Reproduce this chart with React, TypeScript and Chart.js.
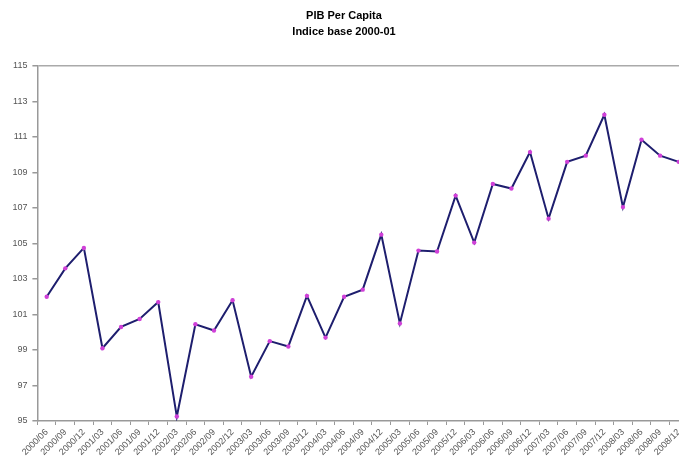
import React, { useEffect, useRef } from "react";
import { Chart, registerables } from "chart.js";

Chart.register(...registerables);

const titleLines = ["PIB Per Capita", "Indice base 2000-01"];

const quarters = [
  "2000/06", "2000/09", "2000/12",
  "2001/03", "2001/06", "2001/09", "2001/12",
  "2002/03", "2002/06", "2002/09", "2002/12",
  "2003/03", "2003/06", "2003/09", "2003/12",
  "2004/03", "2004/06", "2004/09", "2004/12",
  "2005/03", "2005/06", "2005/09", "2005/12",
  "2006/03", "2006/06", "2006/09", "2006/12",
  "2007/03", "2007/06", "2007/09", "2007/12",
  "2008/03", "2008/06", "2008/09", "2008/12",
];

const pibIndex = [
  102.0, 103.6, 104.75,
  99.1, 100.3, 100.75, 101.7,
  95.25, 100.45, 100.1, 101.8,
  97.5, 99.5, 99.2, 102.05,
  99.7, 102.0, 102.4, 105.5,
  100.5, 104.6, 104.55, 107.7,
  105.05, 108.35, 108.1, 110.15,
  106.4, 109.6, 109.95, 112.25,
  107.05, 110.85, 109.95, 109.6,
];

const yMin = 95;
const yMax = 115;
const yStep = 2;

export default function App() {
  const ref = useRef<HTMLCanvasElement | null>(null);

  useEffect(() => {
    if (!ref.current) return;
    const chart = new Chart(ref.current, {
      type: "line",
      data: {
        labels: quarters,
        datasets: [
          {
            data: pibIndex,
            borderColor: "#1e1e6e",
            borderWidth: 2,
            tension: 0,
            pointRadius: 2.2,
            pointBackgroundColor: "#d040d8",
            pointBorderColor: "#d040d8",
            pointBorderWidth: 0,
          },
        ],
      },
      options: {
        animation: false,
        responsive: false,
        layout: { padding: { left: 0, right: 12, top: 0, bottom: 0 } },
        plugins: {
          legend: { display: false },
          tooltip: { enabled: false },
          title: {
            display: true,
            text: titleLines,
            color: "#000",
            font: { family: "Liberation Sans", size: 11, weight: "bold", lineHeight: "16px" },
            padding: { top: 8, bottom: 26 },
          },
        },
        scales: {
          x: {
            offset: true,
            grid: {
              offset: true,
              drawOnChartArea: false,
              drawTicks: true,
              tickLength: 4,
              color: "#999",
            },
            border: { color: "#999", width: 1.5 },
            ticks: {
              autoSkip: false,
              minRotation: 45,
              maxRotation: 45,
              color: "#555",
              padding: 2,
              font: { family: "Liberation Sans", size: 9 },
            },
            afterFit: (s: any) => {
              s.height = 47;
            },
          },
          y: {
            min: yMin,
            max: yMax,
            grid: {
              drawOnChartArea: true,
              drawTicks: true,
              tickLength: 5,
              color: (c: any) => (c.tick && c.tick.value === yMax ? "#aaa" : "rgba(0,0,0,0)"),
              lineWidth: 1.5,
              tickColor: "#999",
            },
            border: { color: "#999", width: 1.5 },
            ticks: {
              stepSize: yStep,
              color: "#555",
              padding: 5,
              font: { family: "Liberation Sans", size: 9 },
            },
            afterFit: (s: any) => {
              s.width = 37.4;
            },
          },
        },
      },
    });
    return () => chart.destroy();
  }, []);

  return (
    <div style={{ position: "fixed", left: 0, top: 0, width: 700, height: 468, background: "#fff" }}>
      <canvas ref={ref} width={700} height={468} style={{ display: "block" }} />
    </div>
  );
}
